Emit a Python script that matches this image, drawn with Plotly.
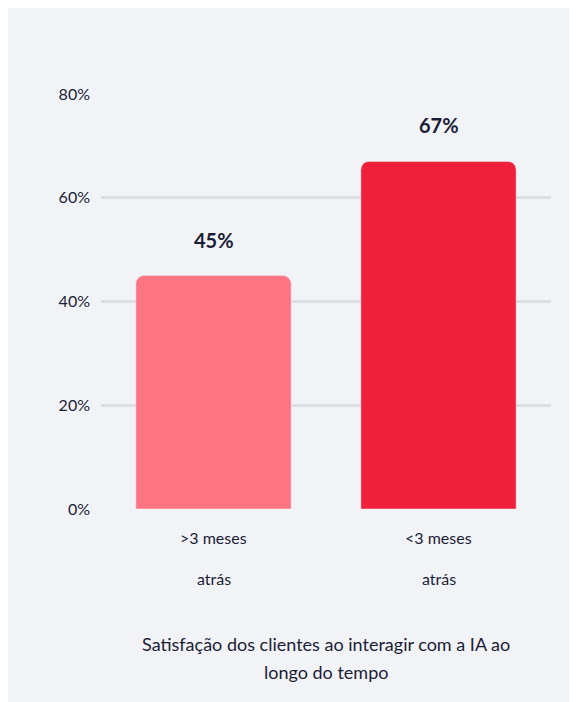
import plotly.graph_objects as go

categories = [">3 meses atrás", "<3 meses atrás"]
cat_lines = [[">3 meses", "atrás"], ["<3 meses", "atrás"]]
values = [45, 67]
labels = ["45%", "67%"]
colors = ["#ff7482", "#f0203b"]
tickvals = [0, 20, 40, 60, 80]
ticktext = ["0%", "20%", "40%", "60%", "80%"]
title_lines = ["Satisfação dos clientes ao interagir com a IA ao", "longo do tempo"]

bg = "#f2f3f7"
fig = go.Figure(go.Bar(x=categories, y=values, marker_color=colors, width=0.69,
                       hoverinfo="skip"))
ann = []
for c, v, l in zip(categories, values, labels):
    ann.append(dict(x=c, y=v, xref="x", yref="y", text=f"<b>{l}</b>", showarrow=False,
                    yshift=36, font=dict(size=20, color="#1b1d36")))
for c, lines in zip(categories, cat_lines):
    ann.append(dict(x=c, y=-28, xref="x", yref="y domain", yanchor="middle",
                    text=lines[0], showarrow=False, font=dict(size=16, color="#1b1d36")))
    ann.append(dict(x=c, y=-69, xref="x", yref="y domain", yanchor="middle",
                    text=lines[1], showarrow=False, font=dict(size=16, color="#1b1d36")))
ann = [a if a["yref"] != "y domain" else {**a, "yref": "paper", "y": 0, "yshift": a["y"]} for a in ann]
ann.append(dict(x=0.5, y=0, xref="paper", yref="paper", xanchor="center", yanchor="middle",
                yshift=-135, text=title_lines[0], showarrow=False,
                font=dict(size=18, color="#1b1d36")))
ann.append(dict(x=0.5, y=0, xref="paper", yref="paper", xanchor="center", yanchor="middle",
                yshift=-163, text=title_lines[1], showarrow=False,
                font=dict(size=18, color="#1b1d36")))

fig.update_layout(
    width=577, height=702, paper_bgcolor=bg, plot_bgcolor=bg,
    margin=dict(l=93, r=34, t=86, b=201),
    font=dict(family="Lato, Noto Sans, sans-serif", color="#1b1d36"),
    barcornerradius=8, showlegend=False, annotations=ann,
    xaxis=dict(showticklabels=False, showgrid=False, zeroline=False),
    yaxis=dict(range=[0, 80], tickvals=tickvals, ticktext=ticktext, showgrid=True,
               gridcolor="#dcdde4", gridwidth=3, zeroline=False,
               tickfont=dict(size=16), ticklabelstandoff=10),
)
fig.write_html("out.html")
